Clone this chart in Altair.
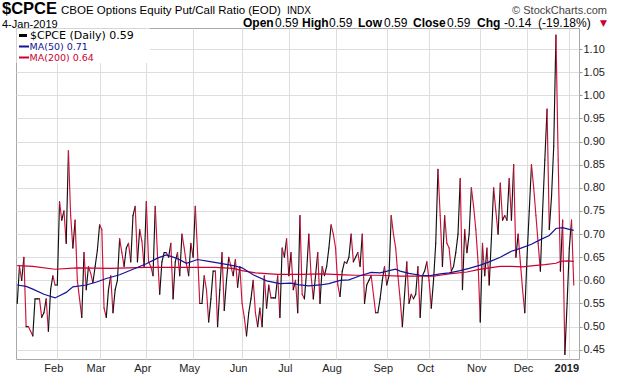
import altair as alt
import pandas as pd

# ---- daily $CPCE values (trading-day index starts at 3 = 5-Jan-2018) ----
start_idx = 3
jan = [0.55, 0.63, 0.60, 0.65, 0.50, 0.50, 0.49, 0.48, 0.56, 0.56, 0.56, 0.52, 0.53, 0.56, 0.49, 0.58, 0.61, 0.59]
feb = [0.59, 0.77, 0.73, 0.75, 0.68, 0.88, 0.74, 0.67, 0.73, 0.60, 0.56, 0.52, 0.66, 0.58, 0.63, 0.615, 0.595, 0.63, 0.665]
mar = [0.72, 0.71, 0.54, 0.52, 0.58, 0.61, 0.53, 0.58, 0.60, 0.69, 0.66, 0.63, 0.67, 0.68, 0.64, 0.74, 0.76, 0.64, 0.71, 0.685, 0.63]
apr = [0.77, 0.64, 0.63, 0.61, 0.76, 0.655, 0.57, 0.64, 0.66, 0.66, 0.65, 0.68, 0.56, 0.64, 0.66, 0.61, 0.70, 0.67, 0.635, 0.61, 0.68]
may = [0.65, 0.76, 0.66, 0.55, 0.55, 0.61, 0.58, 0.51, 0.56, 0.62, 0.62, 0.50, 0.58, 0.66, 0.535, 0.60, 0.65, 0.63, 0.61, 0.645, 0.585, 0.63]
jun = [0.55, 0.52, 0.48, 0.53, 0.56, 0.60, 0.53, 0.50, 0.54, 0.50, 0.61, 0.54, 0.59, 0.562, 0.562, 0.562, 0.61, 0.52, 0.67, 0.65, 0.69]
jul = [0.61, 0.66, 0.58, 0.60, 0.53, 0.74, 0.57, 0.56, 0.62, 0.70, 0.61, 0.56, 0.61, 0.66, 0.55, 0.63, 0.61, 0.63, 0.67, 0.72, 0.70]
aug = [0.67, 0.59, 0.565, 0.62, 0.64, 0.637, 0.65, 0.70, 0.64, 0.65, 0.66, 0.63, 0.70, 0.55, 0.59, 0.60, 0.61, 0.57, 0.53, 0.53, 0.56, 0.60, 0.63]
sep = [0.59, 0.61, 0.74, 0.70, 0.67, 0.61, 0.56, 0.50, 0.57, 0.64, 0.55, 0.57, 0.56, 0.57, 0.63, 0.52, 0.61, 0.62, 0.64]
octo = [0.60, 0.54, 0.60, 0.68, 0.84, 0.74, 0.63, 0.74, 0.68, 0.67, 0.62, 0.63, 0.66, 0.70, 0.82, 0.58, 0.71, 0.66, 0.70, 0.80, 0.76, 0.71, 0.64]
nov = [0.51, 0.68, 0.61, 0.67, 0.59, 0.69, 0.80, 0.75, 0.70, 0.81, 0.73, 0.74, 0.73, 0.82, 0.73, 0.85, 0.65, 0.70, 0.64, 0.58, 0.53]
dec = [0.65, 0.75, 0.85, 0.80, 0.74, 0.68, 0.62, 0.75, 0.86, 0.97, 0.71, 0.78, 0.89, 1.13, 0.86, 0.62, 0.73, 0.44, 0.55]
jan19 = [0.67, 0.73, 0.59]

# ---- moving averages (trading-day index, value) ----
ma50_idx = [3, 7, 10, 15, 20, 25, 28, 34, 39, 43, 49, 55, 61, 66, 70, 75, 79, 84, 89, 95, 100, 104, 109, 115, 121,
            126, 130, 134, 139, 143, 148, 152, 157, 162, 166, 171, 173, 175, 179, 184, 188, 193, 197, 202, 206,
            211, 215, 220, 225, 229, 234, 238, 242, 245, 248, 251, 253]
ma50_val = [0.590, 0.587, 0.581, 0.570, 0.562, 0.574, 0.586, 0.590, 0.597, 0.604, 0.612, 0.624, 0.636, 0.648, 0.655,
            0.647, 0.637, 0.645, 0.641, 0.636, 0.632, 0.627, 0.612, 0.599, 0.593, 0.594, 0.590, 0.588, 0.590, 0.593,
            0.600, 0.601, 0.610, 0.617, 0.616, 0.622, 0.624, 0.620, 0.615, 0.611, 0.610, 0.614, 0.616, 0.621, 0.626,
            0.633, 0.640, 0.650, 0.663, 0.669, 0.678, 0.688, 0.697, 0.712, 0.714, 0.710, 0.708]
ma200_idx = [3, 10, 20, 30, 45, 61, 80, 92, 100, 104, 110, 120, 130, 140, 150, 155, 165, 175, 190, 193, 197, 205,
             210, 215, 220, 225, 230, 235, 240, 245, 247, 250, 253]
ma200_val = [0.632, 0.630, 0.624, 0.627, 0.626, 0.628, 0.628, 0.628, 0.626, 0.621, 0.616, 0.613, 0.613, 0.614,
             0.612, 0.611, 0.611, 0.609, 0.609, 0.611, 0.614, 0.618, 0.623, 0.627, 0.630, 0.630, 0.629, 0.632,
             0.634, 0.637, 0.641, 0.642, 0.641]

# ---- axis ticks ----
month_idx = [21, 40, 61, 82, 104, 125, 146, 169, 188, 211, 232, 251]
month_lab = ["Feb", "Mar", "Apr", "May", "Jun", "Jul", "Aug", "Sep", "Oct", "Nov", "Dec", "2019"]
y_ticks = [0.45, 0.50, 0.55, 0.60, 0.65, 0.70, 0.75, 0.80, 0.85, 0.90, 0.95, 1.00, 1.05, 1.10]

# ---- build tables ----
vals = jan + feb + mar + apr + may + jun + jul + aug + sep + octo + nov + dec + jan19
idx = list(range(start_idx, start_idx + len(vals)))
seg = pd.DataFrame({
    "i": idx[:-1], "i2": idx[1:], "v": vals[:-1], "v2": vals[1:],
})
seg["dir"] = ["up" if b >= a else "down" for a, b in zip(vals[:-1], vals[1:])]
ma50 = pd.DataFrame({"i": ma50_idx, "v": ma50_val})
ma200 = pd.DataFrame({"i": ma200_idx, "v": ma200_val})

PL, PT = 16, 28
W, H = 563, 331
GRID = "#dedede"

lab_js = "[" + ",".join("'%s'" % s for s in month_lab) + "]"
idx_js = "[" + ",".join(str(v) for v in month_idx) + "]"

xscale = alt.Scale(domain=[2.45, 255.35], nice=False, zero=False)
yscale = alt.Scale(domain=[0.43, 1.1454], nice=False, zero=False)
xaxis = alt.Axis(values=month_idx, labelExpr=lab_js + "[indexof(" + idx_js + ", datum.value)]",
                 title=None, grid=True, gridColor=GRID, ticks=False, domain=False,
                 labelFont="Liberation Sans", labelFontSize=11, labelColor="#222222", labelPadding=3,
                 labelFontWeight={"condition": {"test": "datum.value >= 250", "value": "bold"}, "value": "normal"},
                 labelOffset={"condition": {"test": "datum.value >= 250", "value": -3}, "value": -4},
                 labelAngle=0)
yaxis = alt.Axis(values=y_ticks, format=".2f", orient="right", title=None, grid=True, gridColor=GRID,
                 tickSize=3, tickColor="#999999", domain=False, labelFont="Liberation Sans",
                 labelFontSize=11, labelColor="#222222", labelPadding=1)

X = alt.X("i:Q", scale=xscale, axis=xaxis)
Y = alt.Y("v:Q", scale=yscale, axis=yaxis)

price = alt.Chart(seg).mark_rule(strokeWidth=1.15, strokeCap="round").encode(
    x=X, x2="i2:Q", y=Y, y2="v2:Q",
    color=alt.Color("dir:N", scale=alt.Scale(domain=["up", "down"], range=["#111111", "#d0103a"]), legend=None),
)
l200 = alt.Chart(ma200).mark_line(strokeWidth=1.2, color="#cc0033").encode(x=X, y=Y)
l50 = alt.Chart(ma50).mark_line(strokeWidth=1.2, color="#141496").encode(x=X, y=Y)

one = pd.DataFrame({"k": [0]})


def txt(t, x, y, size=11, weight="normal", color="#000000", align="left", font="Liberation Sans"):
    return alt.Chart(pd.DataFrame({"t": [t]})).mark_text(
        align=align, baseline="alphabetic", fontSize=size, fontWeight=weight, color=color, font=font
    ).encode(x=alt.value(x - PL), y=alt.value(y - PT), text="t:N")


def box(x1, y1, x2, y2, color):
    return alt.Chart(one).mark_rect(color=color, opacity=1).encode(
        x=alt.value(x1 - PL), x2=alt.value(x2 - PL), y=alt.value(y1 - PT), y2=alt.value(y2 - PT))


legend_layers = [
    box(16.5, 28.5, 150, 63, "#ffffff"),
    box(19, 34, 27, 37, "#000000"),
    txt("$CPCE (Daily) 0.59", 30, 39, size=11, font="DejaVu Sans"),
    box(19, 45.5, 29, 47.5, "#141496"),
    txt("MA(50) 0.71", 29.5, 50, size=9.5, font="DejaVu Sans", color="#141496"),
    box(19, 56.5, 29, 58.5, "#cc0033"),
    txt("MA(200) 0.64", 29.5, 61, size=9.5, font="DejaVu Sans", color="#cc0033"),
]

header_layers = [
    txt("$CPCE", 2, 14, size=16.5, weight="bold"),
    txt("CBOE Options Equity Put/Call Ratio (EOD)", 61, 14, size=11.5),
    txt("INDX", 287, 14, size=10),
    txt("\u00a9 StockCharts.com", 607, 14, size=11, color="#444444", align="right"),
    txt("4-Jan-2019", 2, 27.5, size=11),
    txt("Open", 243, 27, size=12, weight="bold"),
    txt("0.59", 275, 27, size=12),
    txt("High", 302, 27, size=12, weight="bold"),
    txt("0.59", 329, 27, size=12),
    txt("Low", 358, 27, size=12, weight="bold"),
    txt("0.59", 384, 27, size=12),
    txt("Close", 413, 27, size=12, weight="bold"),
    txt("0.59", 447, 27, size=12),
    txt("Chg", 477, 27, size=12, weight="bold"),
    txt("-0.14", 504, 27, size=12),
    txt("(-19.18%)", 538, 27, size=12),
    txt("\u25bc", 600, 26, size=9, color="#cc0033", font="DejaVu Sans"),
]

chart = alt.layer(price, l200, l50, *legend_layers, *header_layers).properties(
    width=W, height=H,
    padding={"left": PL, "top": PT, "right": 620 - PL - W, "bottom": 376 - PT - H},
    autosize=alt.AutoSizeParams(type="none"),
    background="#ffffff",
).configure_view(stroke="#a8a8a8", strokeWidth=1)

chart.save("out.html", embed_options={"renderer": "svg", "actions": False})
